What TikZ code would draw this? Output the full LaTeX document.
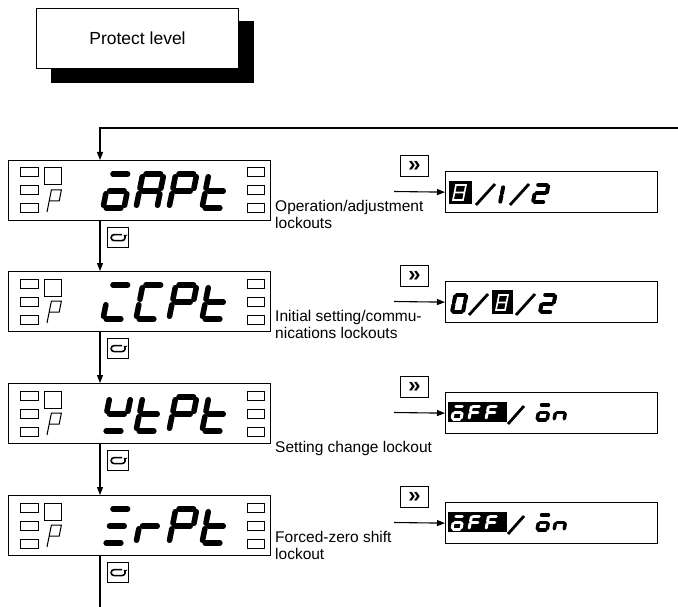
\documentclass[tikz,border=0pt]{standalone}
\usepackage{fontspec}
\setmainfont{Liberation Sans}
\usetikzlibrary{arrows.meta}
\tikzset{
  segline/.style={line width=5.5pt,line cap=round},
  segx/.style={},
  disp/.style={draw,line width=1.4pt,fill=white,inner sep=0pt,minimum width=262pt,minimum height=60pt,anchor=north west},
  rdisp/.style={draw,line width=1.3pt,fill=white,inner sep=0pt,minimum width=212pt,minimum height=41pt,anchor=north west},
  led/.style={draw,line width=1pt},
  cycbtn/.style={draw,line width=1.2pt,fill=white,inner sep=0pt,minimum width=21pt,minimum height=20pt,anchor=north west},
  ffbtn/.style={draw,line width=1.2pt,fill=white,inner sep=0pt,minimum width=28pt,minimum height=21pt,anchor=north west,font=\bfseries\fontsize{22}{22}\selectfont},
  conn/.style={line width=1.1pt},
  arr/.style={-{Triangle[length=8pt,width=6pt]}},
  lbl/.style={anchor=north west,inner sep=0pt,align=left,font=\fontsize{15.5}{17}\selectfont},
}
\pgfkeys{
 /seg/a/.code={\draw[segline,segx] (0.15,1)--(0.85,1);},
 /seg/b/.code={\draw[segline,segx] (1,0.92)--(1,0.58);},
 /seg/c/.code={\draw[segline,segx] (1,0.42)--(1,0.08);},
 /seg/d/.code={\draw[segline,segx] (0.15,0)--(0.85,0);},
 /seg/e/.code={\draw[segline,segx] (0,0.08)--(0,0.42);},
 /seg/f/.code={\draw[segline,segx] (0,0.58)--(0,0.92);},
 /seg/g/.code={\draw[segline,segx] (0.15,0.5)--(0.85,0.5);},
 /seg/P/.code={\draw[segline,segx] (0,0)--(0,1)--(1,1)--(1,0.5)--(0,0.5);},
 /seg/R/.code={\draw[segline,segx] (0,0) rectangle (1,1) (0,0.5)--(1,0.5);},
}
\newcommand\segdigit[6][]{%
  \begin{scope}[shift={(#2,#3)},xslant=0.2,x=#4pt,y=#5pt]
    \tikzset{segx/.style={#1}}%
    \foreach \s in {#6}{\edef\segtmp{\noexpand\pgfkeys{/seg/\s}}\segtmp}%
  \end{scope}}
\newcommand\dispinner[5]{%
  \foreach \dy in {8,26,44}{%
    \draw[led] (20,#1+\dy) rectangle (38,#1+\dy+9);
    \draw[led] (247,#1+\dy) rectangle (264,#1+\dy+9);
  }
  \draw[led] (44,#1+8) rectangle (61,#1+25);
  \segdigit[line width=1pt,line cap=butt]{47}{#1+52}{10}{22}{P}
  \segdigit{103}{#1+48}{21}{34}{#2}
  \segdigit{136}{#1+48}{21}{34}{#3}
  \segdigit{169}{#1+48}{21}{34}{#4}
  \segdigit{202}{#1+48}{21}{34}{#5}
}
\newcommand\cycicon[1]{%
  \draw[line width=1.6pt,-{Stealth[length=3.5pt,width=4.5pt]}]
    ([shift={(4,-3)}]#1.center) -- ++(-8,0)
    arc[start angle=270,end angle=90,radius=3] -- ++(8,0)
    arc[start angle=90,end angle=-60,radius=3];
}
\begin{document}
\begin{tikzpicture}[x=1pt,y=-1pt]
\useasboundingbox (0,0) rectangle (678,607);
% title box
\node[fill=black,inner sep=0pt,minimum width=203pt,minimum height=62pt,anchor=north west] (psh) at (51,21) {};
\node[draw,fill=white,line width=1pt,inner sep=0pt,minimum width=202pt,minimum height=60pt,anchor=north west,font=\fontsize{17.5}{20}\selectfont] (pl) at (36,8) {Protect level};
% left displays
\node[disp] (d1) at (8,160) {};
\node[disp] (d2) at (8,271) {};
\node[disp] (d3) at (8,383) {};
\node[disp] (d4) at (8,495) {};
\dispinner{160}{a,c,d,e,g}{a,b,c,e,f,g}{a,b,e,f,g}{d,e,f,g}
\dispinner{271}{a,d,e}{a,d,e,f}{a,b,e,f,g}{d,e,f,g}
\dispinner{383}{b,d,f,g}{d,e,f,g}{a,b,e,f,g}{d,e,f,g}
\dispinner{495}{a,d,g}{e,g}{a,b,e,f,g}{d,e,f,g}
% cycle buttons
\node[cycbtn] (c1) at (107,227) {};
\node[cycbtn] (c2) at (107,338) {};
\node[cycbtn] (c3) at (107,450) {};
\node[cycbtn] (c4) at (107,562) {};
\cycicon{c1}\cycicon{c2}\cycicon{c3}\cycicon{c4}
% flow connectors
\coordinate (loopR) at (678,128);
\coordinate (v1) at (100,128);
\coordinate (bot) at (100,607);
\draw[conn,arr] (loopR) -- (v1) -- (v1 |- d1.north);
\draw[conn,arr] (d1.south -| v1) -- (d2.north -| v1);
\draw[conn,arr] (d2.south -| v1) -- (d3.north -| v1);
\draw[conn,arr] (d3.south -| v1) -- (d4.north -| v1);
\draw[conn] (d4.south -| v1) -- (bot);
% labels
\node[lbl] (t1) at (275,200) {Operation/adjustment\\lockouts};
\node[lbl] (t2) at (275,310) {Initial setting/commu-\\nications lockouts};
\node[lbl] (t3) at (275,441) {Setting change lockout};
\node[lbl] (t4) at (275,531) {Forced-zero shift\\lockout};
% right displays
\node[rdisp] (r1) at (445,171) {};
\node[rdisp] (r2) at (445,281) {};
\node[rdisp] (r3) at (445,392) {};
\node[rdisp] (r4) at (445,502) {};
\node[ffbtn] (b1) at (400,155) {»};
\node[ffbtn] (b2) at (400,265) {»};
\node[ffbtn] (b3) at (400,376) {»};
\node[ffbtn] (b4) at (400,486) {»};
\coordinate (a1) at (394,191.5);
\coordinate (a2) at (394,301.5);
\coordinate (a3) at (394,412.5);
\coordinate (a4) at (394,522.5);
\draw[conn,arr] (a1) -- (r1.west);
\draw[conn,arr] (a2) -- (r2.west);
\draw[conn,arr] (a3) -- (r3.west);
\draw[conn,arr] (a4) -- (r4.west);
% row 1 value: 0/1/2 (0 highlighted)
\fill (449,181) rectangle (472,204);
\segdigit[white,line width=1.6pt,line cap=butt]{453}{200}{10}{15}{R}
\draw[line width=2.8pt] (476,205) -- (495,184);
\segdigit[line width=4pt]{495}{203}{5}{17}{b,c}
\draw[line width=2.8pt] (510,205) -- (529,184);
\segdigit[line width=4pt]{533}{202}{12}{17}{a,b,g,e,d}
% row 2 value: 0/1/2 (1 highlighted)
\segdigit[line width=4pt]{452}{312}{11}{17}{a,b,c,d,e,f}
\draw[line width=2.8pt] (469,315) -- (488,294);
\fill (492,290) rectangle (513,314);
\segdigit[white,line width=1.6pt,line cap=butt]{496}{310}{9}{15}{R}
\draw[line width=2.8pt] (516,315) -- (535,294);
\segdigit[line width=4pt]{540}{312}{12}{17}{a,b,g,e,d}
% rows 3 and 4 value: oFF/on (oFF highlighted)
\foreach \R in {392,502}{
  \fill (448,\R+10) rectangle (507,\R+30);
  \segdigit[white,line width=3pt]{452}{\R+27}{9}{13}{a,c,d,e,g}
  \segdigit[white,line width=3pt]{469}{\R+27}{9}{13}{a,e,f,g}
  \segdigit[white,line width=3pt]{486}{\R+27}{9}{13}{a,e,f,g}
  \draw[line width=2.8pt] (508,\R+32) -- (524,\R+14);
  \segdigit[line width=3.5pt]{537}{\R+28}{10}{15}{a,c,d,e,g}
  \segdigit[line width=3.5pt]{554}{\R+28}{10}{15}{c,e,g}
}
\end{tikzpicture}
\end{document}
